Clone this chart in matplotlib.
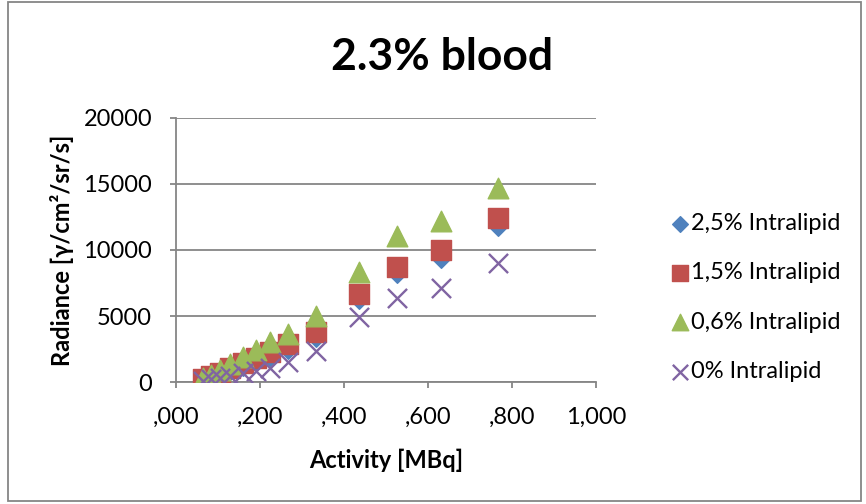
import numpy as np
from matplotlib import pyplot as plt
from matplotlib.patches import Rectangle

plt.rcParams['font.family'] = ['Lato', 'DejaVu Sans']

activity = [0.065, 0.085, 0.105, 0.13, 0.16, 0.19, 0.225, 0.267, 0.333, 0.437, 0.527, 0.632, 0.766]
lip_25 = [200, 400, 600, 900, 1250, 1600, 2000, 2500, 3400, 6300, 8250, 9400, 11800]
lip_15 = [250, 450, 700, 1050, 1450, 1850, 2300, 2900, 3800, 6700, 8700, 10000, 12400]
lip_06 = [300, 550, 900, 1400, 1900, 2450, 3000, 3650, 5000, 8300, 11050, 12200, 14700]
lip_00 = [100, 200, 300, 450, 650, 850, 1100, 1500, 2350, 4900, 6400, 7100, 9000]

x_ticks = [0, 0.2, 0.4, 0.6, 0.8, 1.0]
x_ticklabels = [",000", ",200", ",400", ",600", ",800", "1,000"]
y_ticks = [0, 5000, 10000, 15000, 20000]

fig = plt.figure(figsize=(8.66, 5.04), dpi=100)
ax = fig.add_axes([0.203, 0.242, 0.485, 0.524])

grey = "#868686"
ax.scatter(activity, lip_25, marker="D", s=100, color="#4F81BD", label="2,5% Intralipid", zorder=3)
ax.scatter(activity, lip_15, marker="s", s=210, color="#C0504D", label="1,5% Intralipid", zorder=3)
ax.scatter(activity, lip_06, marker="^", s=220, color="#9BBB59", label="0,6% Intralipid", zorder=3)
ax.scatter(activity, lip_00, marker="x", s=190, color="#8064A2", linewidths=1.7, label="0% Intralipid", zorder=3)

ax.set_xlim(0, 1.0)
ax.set_ylim(0, 20000)
ax.set_xticks(x_ticks)
ax.set_xticklabels(x_ticklabels)
ax.set_yticks(y_ticks)
ax.yaxis.grid(True, color=grey, linewidth=1.3)
ax.set_axisbelow(True)
for s in ["top", "right"]:
    ax.spines[s].set_visible(False)
for s in ["left", "bottom"]:
    ax.spines[s].set_color(grey)
    ax.spines[s].set_linewidth(1.3)
ax.tick_params(axis="both", colors=grey, labelcolor="black", labelsize=17, length=4, width=1.3)
ax.tick_params(axis="y", pad=13)
ax.tick_params(axis="x", pad=14)

ax.set_xlabel("Activity [MBq]", fontsize=17, fontweight="bold", labelpad=15)
ax.set_ylabel("Radiance [γ/cm²/sr/s]", fontsize=17, fontweight="bold", labelpad=7)
fig.text(0.511, 0.887, "2.3% blood", ha="center", va="center", fontsize=32, fontweight="bold")

fig.legend(loc="center left", bbox_to_anchor=(0.748, 0.41), frameon=False, fontsize=17,
           handletextpad=0.05, labelspacing=1.2, handlelength=0.9, markerscale=0.8)

fig.patches.append(Rectangle((0.009, 0.006), 0.985, 0.99, transform=fig.transFigure,
                             fill=False, edgecolor=grey, linewidth=1.3))

fig.savefig("out.png", dpi=100)
